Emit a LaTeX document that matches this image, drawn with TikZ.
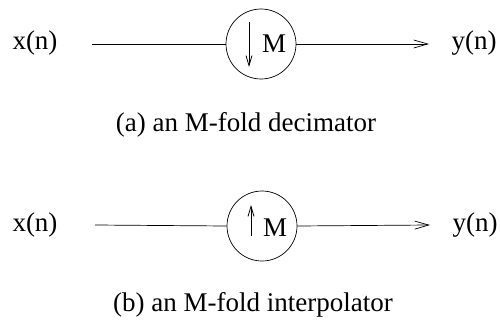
\documentclass[tikz,border=0pt]{standalone}
\usepackage{fontspec}
\setmainfont{Liberation Serif}
\usetikzlibrary{arrows.meta}
\begin{document}
\begin{tikzpicture}[x=1pt,y=-1pt,
  lbl/.style={font=\fontsize{27}{32}\selectfont, inner sep=0pt},
  sampler/.style={draw, circle, minimum size=70pt, inner sep=0pt, line width=0.7pt},
  sig/.style={line width=0.7pt},
  sigarrow/.style={line width=0.7pt, -{Straight Barb[length=14pt,width=8pt,line width=0.7pt]}},
  inner/.style={line width=0.8pt, -{Straight Barb[length=10pt,width=6pt,line width=0.8pt]}}]
\useasboundingbox (0,0) rectangle (500,321);
% (a) decimator
\node[lbl] (xa) at (35,43) {x(n)};
\coordinate (xa0) at (92,44);
\node[sampler] (da) at (261,44) {};
\node[lbl] (ma) at (274,44) {M};
\coordinate (da1) at (249,22);
\coordinate (da2) at (249,67);
\draw[inner] (da1) -- (da2);
\coordinate (ya0) at (429,44);
\node[lbl] (ya) at (474,43) {y(n)};
\draw[sig] (xa0) -- (da.west);
\draw[sigarrow] (da.east) -- (ya0);
\node[lbl] (ca) at (246,125) {(a) an M-fold decimator};
% (b) interpolator
\node[lbl] (xb) at (35,225) {x(n)};
\coordinate (xb0) at (95,225);
\node[sampler] (ib) at (262,226) {};
\node[lbl] (mb) at (275,228) {M};
\coordinate (ib1) at (251,236);
\coordinate (ib2) at (251,205);
\draw[inner] (ib1) -- (ib2);
\coordinate (yb0) at (430,225);
\node[lbl] (yb) at (475,225) {y(n)};
\draw[sig] (xb0) -- (ib.west);
\draw[sigarrow] (ib.east) -- (yb0);
\node[lbl] (cb) at (253,305) {(b) an M-fold interpolator};
\end{tikzpicture}
\end{document}
